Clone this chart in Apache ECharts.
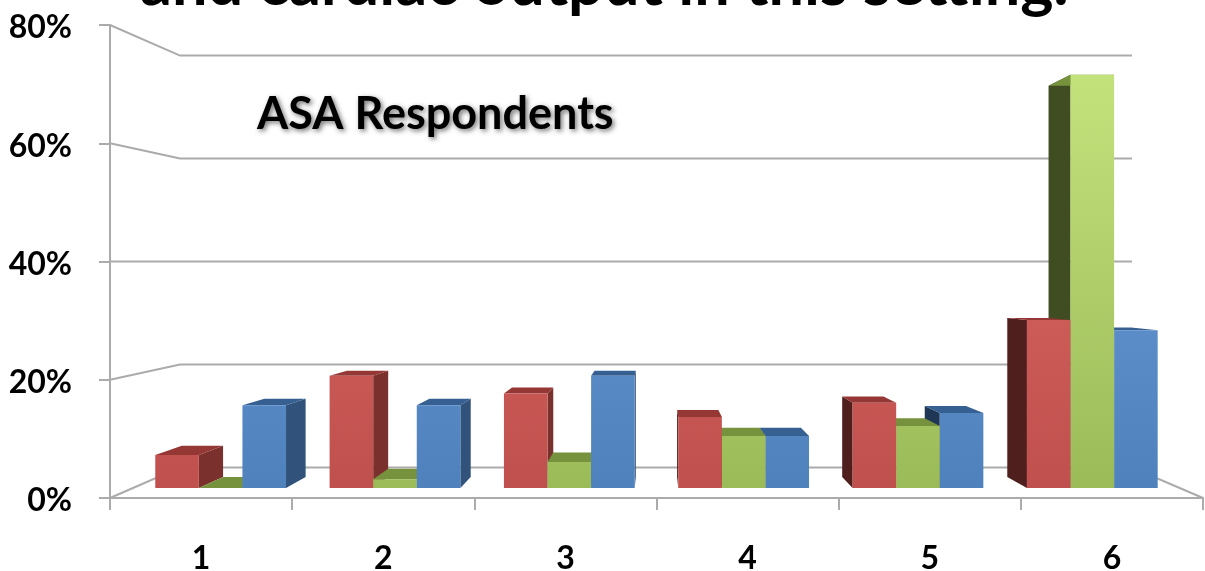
<!DOCTYPE html>
<html>
<head>
<meta charset="utf-8">
<script src="https://cdn.jsdelivr.net/npm/echarts@6/dist/echarts.min.js"></script>
<style>html,body{margin:0;padding:0;background:#fff}#c{width:1205px;height:571px;filter:blur(0.6px)}</style>
</head>
<body>
<div id="c"></div>
<script>
var categories = ['1', '2', '3', '4', '5', '6'];
var redValues = [5.6, 19, 16, 12, 14.4, 28.4];
var greenValues = [0, 1.5, 4.4, 8.8, 10.5, 69.9];
var blueValues = [14, 14, 19, 8.8, 12.7, 26.7];
var yTicks = [0, 20, 40, 60, 80];
var titleText = 'and cardiac output in this setting.';
var noteText = 'ASA Respondents';

var FONT = 'Lato';
var VX = 656, VY = 282, K = 0.053;   // perspective for bar depth
var PLANE = 0.957, LIFT = 10;         // bar plane relative to the front axis
var WALL = 0.871, WALL_VY = 262;      // back wall relative to the y axis
var chart = echarts.init(document.getElementById('c'), null, {renderer: 'canvas'});

function back(p) { return [p[0] + (VX - p[0]) * K, p[1] + (VY - p[1]) * K]; }
function vGrad(top, bottom) {
  return new echarts.graphic.LinearGradient(0, 75, 0, 488, [
    {offset: 0, color: top}, {offset: 1, color: bottom}
  ], true);
}

function barSeries(name, values, offset, c) {
  return {
    type: 'custom', name: name, silent: true, clip: false,
    data: values.map(function (v, i) { return [i, v]; }),
    encode: {x: 0, y: 1},
    renderItem: function (params, api) {
      var i = api.value(0), v = api.value(1);
      var top = api.coord([i, v]), base = api.coord([i, 0]);
      var w = api.size([1, 0])[0] * PLANE / 4;
      var cx = VX + (top[0] - VX) * PLANE + offset * w;
      var x0 = cx - w / 2, x1 = cx + w / 2;
      var yt = top[1] - LIFT, yb = base[1] - LIFT;
      var tl = [x0, yt], tr = [x1, yt], bl = [x0, yb], br = [x1, yb];
      var leftOfCentre = x1 <= VX, rightOfCentre = x0 >= VX;
      var z = leftOfCentre ? 100 + i * 10 + (offset + 1) * 3 : 300 - i * 10 - (offset + 1) * 3;
      var kids = [];
      if (leftOfCentre) {
        kids.push({type: 'polygon', z2: z, shape: {points: [tr, back(tr), back(br), br]}, style: {fill: c.right}});
      } else if (rightOfCentre) {
        kids.push({type: 'polygon', z2: z, shape: {points: [tl, back(tl), back(bl), bl]}, style: {fill: c.left}});
      }
      kids.push({type: 'polygon', z2: z + 1, shape: {points: [tl, back(tl), back(tr), tr]}, style: {fill: c.top}});
      if (v > 0) {
        kids.push({type: 'polygon', z2: z + 2, shape: {points: [tl, tr, br, bl]}, style: {fill: c.front}});
      }
      return {type: 'group', children: kids};
    }
  };
}

var wallSeries = {
  type: 'custom', name: 'wall', silent: true, clip: false, z: 1,
  data: yTicks.map(function (t) { return [0, t]; }),
  encode: {x: 0, y: 1},
  renderItem: function (params, api) {
    var t = api.value(1), cs = params.coordSys;
    var y = api.coord([0, t])[1];
    var wy = WALL_VY + (y - WALL_VY) * WALL;
    var xl = cs.x, xr = cs.x + cs.width, wl = xl + 70, wr = xr - 71;
    var pts = [[xl, y], [wl, wy], [wr, wy]];
    if (t === 0) pts.push([xr, y]);
    return {type: 'polyline', z2: 0, shape: {points: pts},
      style: {fill: null, stroke: '#ABABAB', lineWidth: 2}};
  }
};

chart.setOption({
  animation: false,
  backgroundColor: '#ffffff',
  grid: {left: 110, right: 2, top: 25, bottom: 73, outerBoundsMode: 'none', containLabel: false},
  xAxis: {
    type: 'category', data: categories,
    axisLine: {show: true, lineStyle: {color: '#ABABAB', width: 2}},
    axisTick: {show: true, length: 12, lineStyle: {color: '#ABABAB', width: 2}},
    axisLabel: {margin: 45, color: '#000', fontFamily: FONT, fontWeight: 'bold', fontSize: 32}
  },
  yAxis: {
    type: 'value', min: 0, max: 80, interval: 20,
    splitLine: {show: false},
    axisLine: {show: true, lineStyle: {color: '#ABABAB', width: 2}},
    axisTick: {show: true, length: 11, lineStyle: {color: '#ABABAB', width: 2}},
    axisLabel: {
      margin: 38,
      formatter: function (v) { return '{v|' + v + '%}'; },
      rich: {v: {color: '#000', fontFamily: FONT, fontWeight: 'bold', fontSize: 32, padding: [6, 0, 0, 0]}}
    }
  },
  graphic: [
    {type: 'text', z: 50, left: 140, top: -47, style: {text: titleText, fill: '#000', font: 'bold 63px ' + FONT}},
    {type: 'text', z: 50, left: 257, top: 92, style: {text: noteText, fill: '#000', font: 'bold 45px ' + FONT,
      textShadowColor: 'rgba(0,0,0,0.55)', textShadowBlur: 5, textShadowOffsetX: 2, textShadowOffsetY: 2}}
  ],
  series: [
    wallSeries,
    barSeries('red', redValues, -1, {front: vGrad('#DE6C68', '#C0504D'), top: '#953735', right: '#7A302D', left: '#4F1F1D'}),
    barSeries('green', greenValues, 0, {front: vGrad('#C4E27C', '#9BBB59'), top: '#76923C', right: '#5F7530', left: '#404D22'}),
    barSeries('blue', blueValues, 1, {front: vGrad('#6E9FDB', '#4F81BD'), top: '#366092', right: '#31527B', left: '#1F3655'})
  ]
});
</script>
</body>
</html>
